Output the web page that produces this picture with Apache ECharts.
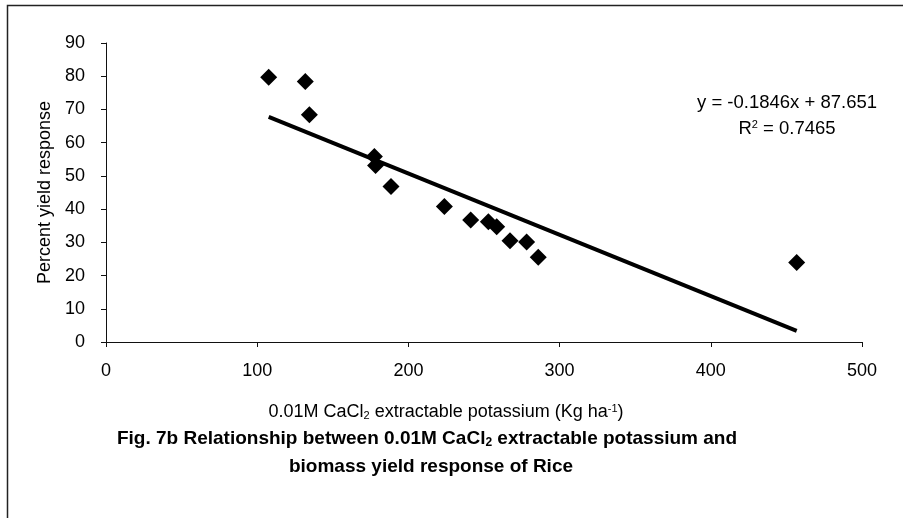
<!DOCTYPE html>
<html>
<head>
<meta charset="utf-8">
<script src="https://cdn.jsdelivr.net/npm/echarts@6/dist/echarts.min.js"></script>
<style>
  html, body { margin: 0; padding: 0; background: #fff; }
  #chart { width: 903px; height: 518px; }
</style>
</head>
<body>
<div id="chart"></div>
<script>
// Extractable K (kg/ha) and percent biomass yield response of rice
const potassium = [107.6, 131.8, 134.5, 177.5, 178.3, 188.5, 223.8, 241.2, 252.9, 258.4, 267.2, 278.2, 285.9, 456.8];
const yieldResponse = [79.7, 78.4, 68.4, 55.8, 53.1, 46.8, 40.8, 36.7, 36.2, 34.7, 30.5, 30.1, 25.5, 23.9];

// Linear fit reported on the chart
const slope = -0.1846;
const intercept = 87.651;
const rSquared = 0.7465;

const xTicks = { min: 0, max: 500, interval: 100 };
const yTicks = { min: 0, max: 90, interval: 10 };

const points = potassium.map((k, i) => [k, yieldResponse[i]]);
const xLo = Math.min(...potassium);
const xHi = Math.max(...potassium);
const fitLine = [[xLo, slope * xLo + intercept], [xHi, slope * xHi + intercept]];

const FONT = '"Liberation Sans", Arial, sans-serif';
const INK = '#000';

const chart = echarts.init(document.getElementById('chart'), null, { renderer: 'canvas' });
chart.setOption({
  backgroundColor: '#fff',
  animation: false,
  grid: { left: 106, right: 41, top: 43, bottom: 176 },
  xAxis: {
    type: 'value',
    min: xTicks.min, max: xTicks.max, interval: xTicks.interval,
    axisLine: { lineStyle: { color: '#111', width: 1 } },
    axisTick: { show: true, length: 5, inside: false, lineStyle: { color: '#111' } },
    splitLine: { show: false },
    axisLabel: { color: INK, fontFamily: FONT, fontSize: 18, margin: 20 }
  },
  yAxis: {
    type: 'value',
    min: yTicks.min, max: yTicks.max, interval: yTicks.interval,
    axisLine: { show: true, lineStyle: { color: '#111', width: 1 } },
    axisTick: { show: true, length: 5, inside: false, lineStyle: { color: '#111' } },
    splitLine: { show: false },
    axisLabel: { color: INK, fontFamily: FONT, fontSize: 18, margin: 21 },
    name: 'Percent yield response',
    nameLocation: 'middle',
    nameGap: 52,
    nameTextStyle: { color: INK, fontFamily: FONT, fontSize: 18 }
  },
  series: [
    {
      type: 'line',
      data: fitLine,
      symbol: 'none',
      lineStyle: { color: '#000', width: 4 },
      z: 2
    },
    {
      type: 'scatter',
      data: points,
      symbol: 'diamond',
      symbolSize: 17,
      itemStyle: { color: '#000', opacity: 1 },
      z: 3
    }
  ],
  graphic: [
    {
      type: 'rect',
      shape: { x: 7.5, y: 5.5, width: 920, height: 540 },
      style: { fill: null, stroke: '#222', lineWidth: 1.5 },
      silent: true
    },
    {
      type: 'text',
      x: 787, y: 103,
      style: {
        text: 'y = -0.1846x + 87.651',
        fontFamily: FONT, fontSize: 18.5, fill: INK,
        align: 'center', verticalAlign: 'middle'
      }
    },
    {
      type: 'text',
      x: 787, y: 129,
      style: {
        text: 'R{sup|2} = ' + rSquared.toFixed(4),
        fontFamily: FONT, fontSize: 18.5, fill: INK,
        align: 'center', verticalAlign: 'middle',
        rich: { sup: { fontSize: 11, verticalAlign: 'top', fontFamily: FONT, fill: INK } }
      }
    },
    {
      type: 'text',
      x: 446, y: 412,
      style: {
        text: '0.01M CaCl{sub|2} extractable potassium (Kg ha{sup|-1})',
        fontFamily: FONT, fontSize: 18, fill: INK,
        align: 'center', verticalAlign: 'middle',
        rich: {
          sub: { fontSize: 11, verticalAlign: 'bottom', fontFamily: FONT, fill: INK },
          sup: { fontSize: 11, verticalAlign: 'top', fontFamily: FONT, fill: INK }
        }
      }
    },
    {
      type: 'text',
      x: 427, y: 439,
      style: {
        text: 'Fig. 7b Relationship between 0.01M CaCl{sub|2} extractable potassium and',
        fontFamily: FONT, fontSize: 19, fontWeight: 'bold', fill: INK,
        align: 'center', verticalAlign: 'middle',
        rich: { sub: { fontSize: 12, fontWeight: 'bold', verticalAlign: 'bottom', fontFamily: FONT, fill: INK } }
      }
    },
    {
      type: 'text',
      x: 431, y: 467,
      style: {
        text: 'biomass yield response of Rice',
        fontFamily: FONT, fontSize: 19, fontWeight: 'bold', fill: INK,
        align: 'center', verticalAlign: 'middle'
      }
    }
  ]
});
</script>
</body>
</html>
